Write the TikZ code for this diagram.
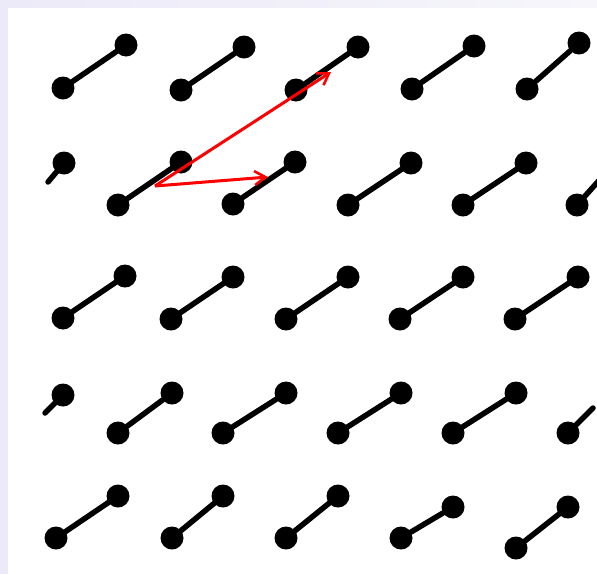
\documentclass[tikz,border=0pt]{standalone}
\usetikzlibrary{arrows.meta}
\definecolor{strip}{RGB}{236,234,248}
\definecolor{stripR}{RGB}{246,246,251}
\begin{document}
\begin{tikzpicture}[x=1pt,y=-1pt,
  ball/.style={circle,fill=black,inner sep=0pt,minimum size=23pt},
  rod/.style={draw=black,line width=5.5pt,line cap=round},
  vec/.style={draw=red,line width=3pt,-{Straight Barb[length=11pt,width=14pt,line width=2.6pt]}}]
\useasboundingbox (0,0) rectangle (597,574);
\fill[strip] (0,0) rectangle (8,574);
\shade[left color=strip,right color=stripR] (8,0) rectangle (597,8);
\fill[white] (8,8) rectangle (597,574);
\foreach \n/\ax/\ay/\bx/\by in {r1a/63/88/126/45, r1b/181/90/244/47, r1c/296/90/358/47, r1d/412/89/474/46, r1e/527/89/579/43,
  r2b/118/205/181/162, r2c/233/204/295/162, r2d/348/205/411/163, r2e/463/205/526/163,
  r3a/63/318/125/276, r3b/171/319/233/277, r3c/286/319/348/277, r3d/400/319/463/277, r3e/515/319/578/277,
  r4b/118/433/172/393, r4c/223/433/286/393, r4d/338/433/401/393, r4e/453/433/516/393,
  r5a/56/538/118/496, r5b/172/538/223/496, r5c/286/538/338/496, r5d/401/538/453/507, r5e/516/548/568/507}{
  \node[ball] (\n l) at (\ax,\ay) {};
  \node[ball] (\n u) at (\bx,\by) {};
  \draw[rod] (\n l) -- (\n u);
}
% partial dumbbells
\node[ball] (r2au) at (64,163) {};
\coordinate (r2al) at (48,182);
\draw[rod] (r2au.center) -- (r2al);
\node[ball] (r4au) at (63,395) {};
\coordinate (r4al) at (45,413);
\draw[rod] (r4au.center) -- (r4al);
\node[ball] (r2fl) at (577,205) {};
\coordinate (r2fu) at (603,176);
\draw[rod] (r2fl.center) -- (r2fu);
\node[ball] (r4fl) at (568,433) {};
\coordinate (r4fu) at (593,408);
\draw[rod] (r4fl.center) -- (r4fu);
% red vectors
\coordinate (o) at (155,186);
\coordinate (t1) at (331,72);
\coordinate (t2) at (268,177);
\draw[vec] (o) -- (t1);
\draw[vec] (o) -- (t2);
\end{tikzpicture}
\end{document}
